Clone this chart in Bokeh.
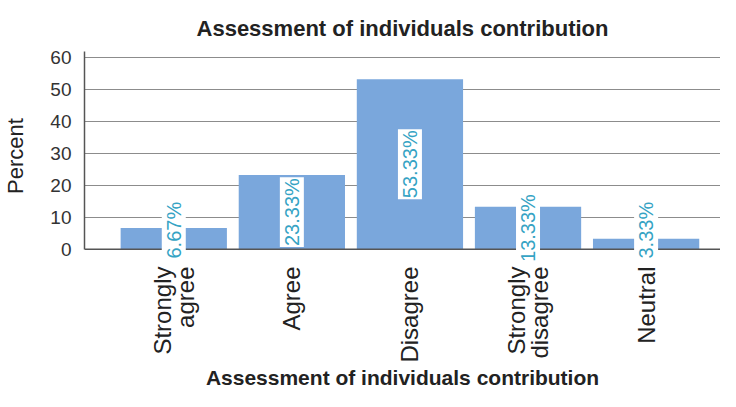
import math
from bokeh.plotting import figure
from bokeh.models import FixedTicker, ColumnDataSource, Label, Span
from bokeh.embed import file_html
from bokeh.resources import INLINE

# ---- data ----
categories = ["Strongly agree", "Agree", "Disagree", "Strongly disagree", "Neutral"]
tick_labels = ["Strongly\nagree", "Agree", "Disagree", "Strongly\ndisagree", "Neutral"]
percent = [6.67, 23.33, 53.33, 13.33, 3.33]
y_ticks = [0, 10, 20, 30, 40, 50, 60]

FONT = "Liberation Sans"
xs = list(range(len(categories)))

src = ColumnDataSource(dict(x=xs, top=percent))

p = figure(width=720, height=391, output_backend="svg", toolbar_location=None,
           x_range=(-0.756, 4.63), y_range=(-3.5, 62),
           min_border_left=79, min_border_right=0, min_border_top=51, min_border_bottom=100)
p.outline_line_color = None
p.background_fill_color = "white"
p.border_fill_color = "white"

p.title.text = "Assessment of individuals contribution"
p.title.align = "center"
p.title.text_font = FONT
p.title.text_font_size = "22px"
p.title.text_font_style = "bold"
p.title.text_color = "#222222"
p.title.standoff = 21

p.vbar(x="x", top="top", width=0.9, bottom=0, source=src,
       fill_color="#7aa7dc", line_color=None)

# baseline at zero
p.add_layout(Span(location=y_ticks[0], dimension="width", line_color="#555555", line_width=1.5))

for xi, v in zip(xs, percent):
    p.add_layout(Label(x=xi, y=max(v / 2.0, 6.0), text=f"{v:.2f}%", angle=math.pi / 2,
                       text_align="center", text_baseline="middle",
                       text_font=FONT, text_font_size="20px", text_color="#35a3c4",
                       background_fill_color="white", padding=1, level="overlay"))

# axes
xa = p.xaxis[0]
xa.ticker = FixedTicker(ticks=xs)
xa.major_label_overrides = {i: t for i, t in enumerate(tick_labels)}
xa.major_label_orientation = math.pi / 2
xa.major_label_text_font = FONT
xa.major_label_text_font_size = "24px"
xa.major_label_text_line_height = 0.85
xa.major_label_text_color = "#222222"
xa.major_label_standoff = 0
xa.major_tick_line_color = None
xa.minor_tick_line_color = None
xa.axis_line_color = None
xa.axis_label = "Assessment of individuals contribution"
xa.axis_label_text_font = FONT
xa.axis_label_text_font_size = "21px"
xa.axis_label_text_font_style = "bold"
xa.axis_label_text_color = "#222222"
xa.axis_label_text_line_height = 1.0
xa.axis_label_standoff = 0

ya = p.yaxis[0]
ya.ticker = FixedTicker(ticks=y_ticks)
ya.bounds = (0, 62)
ya.major_label_text_font = FONT
ya.major_label_text_font_size = "19px"
ya.major_label_text_color = "#333333"
ya.major_label_standoff = 7
ya.major_tick_line_color = None
ya.minor_tick_line_color = None
ya.axis_line_color = "#555555"
ya.axis_line_width = 1.5
ya.axis_label = "Percent"
ya.axis_label_text_font = FONT
ya.axis_label_text_font_size = "22px"
ya.axis_label_text_font_style = "normal"
ya.axis_label_text_color = "#222222"
ya.axis_label_standoff = 19

p.xgrid.grid_line_color = None
p.ygrid.ticker = FixedTicker(ticks=y_ticks[1:])
p.ygrid.grid_line_color = "#8c8c8c"
p.ygrid.grid_line_width = 1.2

open("out.html", "w").write(file_html(p, INLINE))
